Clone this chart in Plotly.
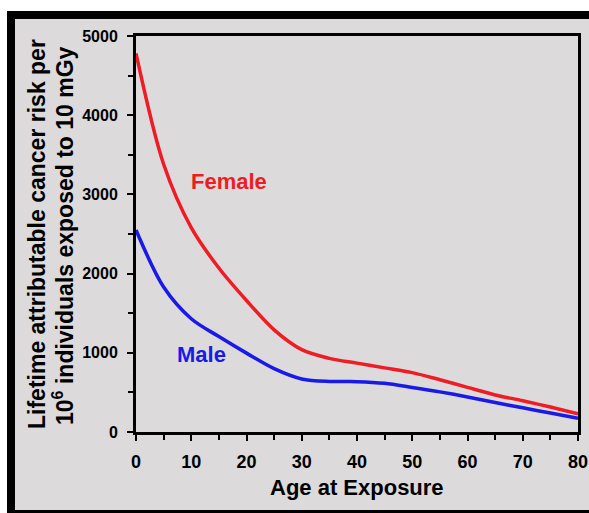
import plotly.graph_objects as go

# ---- data ----
age = [0, 5, 10, 15, 20, 25, 30, 35, 40, 45, 50, 55, 60, 65, 70, 75, 80]
female = [4780, 3380, 2580, 2070, 1660, 1290, 1040, 930, 870, 810, 750, 660, 563, 468, 395, 315, 230]
male = [2550, 1830, 1430, 1205, 996, 800, 670, 638, 636, 615, 563, 507, 443, 373, 305, 239, 172]

x_ticks = [0, 10, 20, 30, 40, 50, 60, 70, 80]
y_ticks = [0, 1000, 2000, 3000, 4000, 5000]

W, H = 589, 513
L, R, T, B = 136, 578, 36, 432  # plot area in pixels

def px(x):
    return x / W

def py(y):
    return 1 - y / H

SANS = "Liberation Sans, Arial, Helvetica, sans-serif"
BG = "#dcdadb"

fig = go.Figure()
fig.add_trace(go.Scatter(x=age, y=female, mode="lines", line=dict(color="#ee1c24", width=3.5, shape="spline", smoothing=0.9),
                         name="Female", hoverinfo="x+y"))
fig.add_trace(go.Scatter(x=age, y=male, mode="lines", line=dict(color="#1a1ae8", width=3.5, shape="spline", smoothing=0.9),
                         name="Male", hoverinfo="x+y"))

fig.update_layout(
    width=W, height=H,
    autosize=False,
    margin=dict(l=0, r=0, t=0, b=0, pad=0),
    paper_bgcolor="white",
    plot_bgcolor=BG,
    showlegend=False,
    xaxis=dict(
        domain=[px(L), px(R)], range=[0, 80], tickvals=x_ticks, ticktext=[str(v) for v in x_ticks],
        showgrid=False, zeroline=False, showline=True, linecolor="black", linewidth=3, mirror=True,
        ticks="outside", ticklen=6, tickwidth=2, tickcolor="black", automargin=False,
        minor=dict(dtick=5, ticks="outside", ticklen=5, tickwidth=2, tickcolor="black", showgrid=False),
        tickfont=dict(family=SANS, size=18, color="black", weight="bold"),
        ticklabelstandoff=5,
    ),
    yaxis=dict(
        domain=[py(B), py(T)], range=[0, 5000], tickvals=y_ticks, ticktext=[str(v) for v in y_ticks],
        showgrid=False, zeroline=False, showline=True, linecolor="black", linewidth=3, mirror=True,
        ticks="outside", ticklen=6, tickwidth=2, tickcolor="black", automargin=False,
        minor=dict(dtick=500, ticks="outside", ticklen=5, tickwidth=2, tickcolor="black", showgrid=False),
        tickfont=dict(family=SANS, size=16, color="black", weight="bold"),
        ticklabelstandoff=6,
    ),
)

# frame: black border and gray panel
fig.add_shape(type="rect", xref="paper", yref="paper", x0=px(7), x1=1, y0=0, y1=py(11),
              fillcolor="black", line=dict(width=0), layer="below")
fig.add_shape(type="rect", xref="paper", yref="paper", x0=px(15), x1=1, y0=py(510), y1=py(19),
              fillcolor=BG, line=dict(width=0), layer="below")

# axis titles
fig.add_annotation(xref="paper", yref="paper", x=px(357), y=py(487), xanchor="center", yanchor="middle",
                   text="Age at Exposure", showarrow=False,
                   font=dict(family=SANS, size=22, color="black", weight="bold"))
fig.add_annotation(xref="paper", yref="paper", x=px(37), y=py(234), xanchor="center", yanchor="middle",
                   text="Lifetime attributable cancer risk per",
                   textangle=-90, showarrow=False, font=dict(family=SANS, size=23, color="black", weight="bold"))
fig.add_annotation(xref="paper", yref="paper", x=px(63), y=py(236), xanchor="center", yanchor="middle",
                   text="10<sup>6</sup> individuals exposed to 10 mGy",
                   textangle=-90, showarrow=False, font=dict(family=SANS, size=23, color="black", weight="bold"))

# series labels
fig.add_annotation(x=16.8, y=3161, text="Female", showarrow=False,
                   font=dict(family=SANS, size=22, color="#ee1c24", weight="bold"))
fig.add_annotation(x=11.9, y=982, text="Male", showarrow=False,
                   font=dict(family=SANS, size=22, color="#1a1ae8", weight="bold"))

fig.write_html(
    "out.html",
    config={"displayModeBar": False},
    post_script="document.body.style.margin='0';document.body.style.padding='0';document.body.style.overflow='hidden';",
)
